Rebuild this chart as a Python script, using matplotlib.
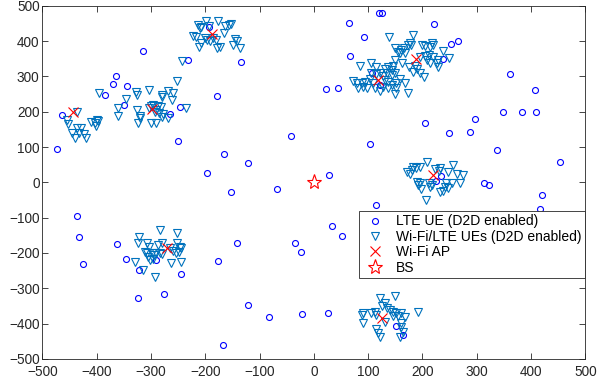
import matplotlib
matplotlib.use("Agg")
import matplotlib.pyplot as plt
import numpy as np

plt.rcParams['font.family'] = ['Liberation Sans', 'DejaVu Sans']

# LTE UEs (D2D enabled)
lte_x = [-463, -473, -384, -370, -365, -344, -350, -315, -265, -247, -251, -231, -193, -134,
         -179, -197, -165, -121, -152, -68, -42, 23, 28,
         120, 125, 65, 93, 222, 253, 266, 67, 237, 107, 122, 44, 362, 407, 348, 384, 409,
         297, 205, 248, 287, 103, 337, 454, 235, 225, 313, 322, 420,
         -437, -433, -425, -362, -346, -322, -324, -291, -276, -245, -176, -142, -35, -24,
         -121, -83, -22, 26, -167, 33, 52, 114, 416, 152, 164]
lte_y = [190, 94, 247, 278, 301, 272, 220, 371, 193, 214, 116, 346, 441, 340,
         245, 27, 79, 56, -28, -18, 132, 264, 21,
         480, 480, 450, 412, 448, 392, 400, 357, 350, 310, 275, 268, 306, 262, 198, 200, 200,
         178, 167, 141, 142, 109, 91, 58, 19, 4, -2, -8, -37,
         -95, -155, -231, -175, -216, -249, -328, -221, -316, -260, -224, -171, -171, -196,
         -348, -381, -373, -371, -461, -124, -152, -63, -75, -408, -433]

# Wi-Fi/LTE UEs (D2D enabled)
wifi_x = [
    # cluster 1
    -455, -452, -446, -440, -436, -429, -432, -423, -419, -437, -411, -403, -400, -397, -402,
    # cluster 2
    -396, -360, -360, -346, -328, -326, -304, -326, -320, -324, -320, -300, -290, -303, -296,
    -287, -282, -280, -280, -268, -259, -262, -253, -236, -280, -268, -293, -278, -242,
    -300, -290, -285,
    # cluster 3
    -213, -207, -210, -198, -193, -177, -164, -153, -156, -166, -223, -217, -201, -196, -192,
    -185, -180, -207, -211, -179, -172, -145, -142, -149, -136,
    # cluster 5
    139, 182, 177, 174, 178, 200, 204, 217, 220, 214, 149, 155, 161, 166, 168, 158, 237, 149,
    163, 195, 204, 212, 220, 209, 214, 229, 226, 229, 249, 175, 186, 190, 195, 203, 182,
    # cluster 4
    85, 106, 115, 131, 137, 145, 143, 106, 115, 122, 128, 134, 143, 149, 72, 79, 88, 94, 91,
    97, 82, 103, 109, 131, 137, 143, 152, 158, 168, 128, 137, 152, 112, 149, 173, 122,
    # cluster 6
    208, 171, 177, 183, 188, 196, 180, 223, 233, 231, 256, 247, 264, 275, 189, 195, 192, 198,
    212, 217, 214, 244, 254, 241, 247, 238, 232, 270, 206,
    # cluster 7
    -284, -252, -322, -324, -308, -303, -287, -280, -252, -247, -244, -248, -254, -311, -308,
    -305, -299, -295, -290, -284, -279, -330, -314, -302, -296, -263, -244, -293, -265, -259,
    # cluster 8
    149, 122, 125, 131, 134, 91, 88, 106, 112, 115, 140, 146, 152, 146, 155, 161, 168, 192,
    91, 131, 115, 118, 161, 164, 158, 122, 161,
]
wifi_y = [
    # cluster 1
    177, 165, 141, 127, 153, 153, 139, 137, 125, 200, 172, 167, 177, 175, 160,
    # cluster 2
    252, 210, 188, 235, 257, 247, 261, 205, 188, 169, 181, 169, 169, 210, 219,
    216, 214, 242, 247, 259, 254, 233, 287, 211, 186, 181, 200, 193, 344,
    215, 205, 195,
    # cluster 3
    446, 441, 436, 458, 444, 458, 444, 449, 446, 422, 415, 412, 410, 403, 400,
    408, 403, 394, 384, 381, 384, 405, 400, 389, 381,
    # cluster 5
    411, 417, 395, 389, 389, 389, 386, 395, 389, 384, 380, 370, 375, 380, 365, 365, 373, 346,
    339, 354, 358, 361, 354, 346, 339, 346, 339, 327, 351, 327, 329, 320, 310, 299, 313,
    # cluster 4
    329, 337, 327, 320, 327, 329, 318, 309, 306, 309, 301, 309, 304, 310, 288, 282, 280, 285,
    271, 266, 266, 292, 280, 290, 285, 276, 282, 292, 282, 271, 266, 266, 266, 250, 254, 259,
    # cluster 6
    58, 30, 25, 44, 42, 44, 35, 37, 42, 33, 49, 30, 25, 21, 2, -3, -8, -20,
    -3, -8, -12, -1, -3, -12, -17, -24, -27, -3, -50,
    # cluster 7
    -135, -143, -154, -173, -171, -182, -178, -171, -171, -182, -187, -197, -201, -197, -201,
    -211, -199, -206, -201, -199, -204, -225, -248, -220, -218, -228, -225, -267, -187, -194,
    # cluster 8
    -322, -329, -350, -343, -357, -369, -376, -371, -367, -376, -362, -367, -371, -379, -379,
    -371, -382, -367, -398, -395, -416, -428, -409, -423, -437, -437, -398,
]

# Wi-Fi APs
ap_x = [-443, -299, -188, 118, 188, 220, -271, 126]
ap_y = [200, 207, 419, 290, 348, 21, -187, -385]

# Base station
bs_x = [0]
bs_y = [0]

ticks = [-500, -400, -300, -200, -100, 0, 100, 200, 300, 400, 500]

fig = plt.figure(figsize=(5.98, 3.9), dpi=100)
ax = fig.add_axes([0.0709, 0.08, 0.908, 0.905])

ax.plot(lte_x, lte_y, linestyle='none', marker='o', markersize=4.3,
        markerfacecolor='none', markeredgecolor='#0000FF', markeredgewidth=0.8,
        label='LTE UE (D2D enabled)')
ax.plot(wifi_x, wifi_y, linestyle='none', marker='v', markersize=5.2,
        markerfacecolor='none', markeredgecolor='#0072BD', markeredgewidth=0.8,
        label='Wi-Fi/LTE UEs (D2D enabled)')
ax.plot(ap_x, ap_y, linestyle='none', marker='x', markersize=7,
        markeredgecolor='#FF0000', markeredgewidth=0.8, label='Wi-Fi AP')
ax.plot(bs_x, bs_y, linestyle='none', marker='*', markersize=11,
        markerfacecolor='none', markeredgecolor='#FF0000', markeredgewidth=0.8,
        label='BS')

ax.set_xlim(-500, 500)
ax.set_ylim(-500, 500)
ax.set_xticks(ticks)
ax.set_yticks(ticks)
ax.tick_params(direction='in', top=True, right=True, length=4, width=0.6,
               labelsize=9.8, colors='#262626')
ax.tick_params(axis='x', pad=4.5)
ax.tick_params(axis='y', pad=2)
for s in ax.spines.values():
    s.set_color('#262626')
    s.set_linewidth(0.6)

leg = ax.legend(loc='upper left', bbox_to_anchor=(0.583, 0.419), fontsize=10,
                frameon=True, fancybox=False, edgecolor='#262626', framealpha=1,
                borderpad=0.25, labelspacing=0.1, handletextpad=0.6, handlelength=1.8,
                borderaxespad=0)
leg.get_frame().set_linewidth(0.6)

fig.savefig('out.png', dpi=100)
